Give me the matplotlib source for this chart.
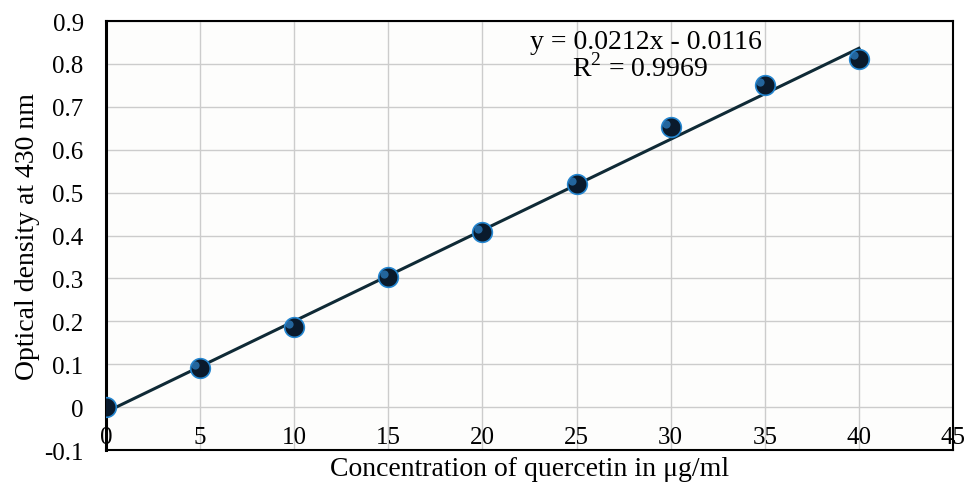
import matplotlib
matplotlib.use("Agg")
import matplotlib.pyplot as plt
import numpy as np

conc = [0, 5, 10, 15, 20, 25, 30, 35, 40]
od = [0.0, 0.09, 0.186, 0.303, 0.408, 0.52, 0.652, 0.75, 0.812]
slope = 0.0212
intercept = -0.0116
x_ticks = [0, 5, 10, 15, 20, 25, 30, 35, 40, 45]
y_ticks = [-0.1, 0, 0.1, 0.2, 0.3, 0.4, 0.5, 0.6, 0.7, 0.8, 0.9]
y_tick_labels = ["-0.1", "0", "0.1", "0.2", "0.3", "0.4", "0.5", "0.6", "0.7", "0.8", "0.9"]

plt.rcParams['font.family'] = ['Liberation Serif', 'DejaVu Serif']
plt.rcParams['mathtext.fontset'] = 'custom'
plt.rcParams['mathtext.rm'] = 'Liberation Serif'

fig = plt.figure(figsize=(9.65, 4.85), dpi=100)
ax = fig.add_axes([0.1098, 0.0701, 0.8778, 0.8845])
ax.set_facecolor('#fdfdfc')
fig.patch.set_facecolor('white')

ax.set_xlim(0, 45)
ax.set_ylim(-0.1, 0.9)
ax.set_xticks(x_ticks)
ax.set_yticks(y_ticks)
ax.set_yticklabels(y_tick_labels)
ax.grid(True, color='#cccccc', linewidth=1.0)
ax.set_axisbelow(True)

xf = np.array([conc[0], conc[-1]])
ax.plot(xf, slope * xf + intercept, color='#0f2a36', linewidth=2.2, zorder=3)
ax.scatter(conc, od, s=200, color='#0a1a2c', edgecolors='#2586d0', linewidths=1.2, zorder=4)
ax.scatter(np.array(conc) - 0.25, np.array(od) + 0.008, s=35, color='#2c7fc4', zorder=5, alpha=0.75, linewidths=0)

ax.tick_params(axis='x', direction='in', length=0, pad=-17, labelsize=18)
ax.tick_params(axis='y', length=0, pad=16, labelsize=18)

for s in ax.spines.values():
    s.set_color('black')
    s.set_linewidth(1.5)
ax.spines['left'].set_linewidth(2.2)

ax.set_xlabel('Concentration of quercetin in μg/ml', fontsize=20, labelpad=4)
ax.set_ylabel('Optical density at 430 nm', fontsize=20, labelpad=3)

ax.text(0.6375, 0.953, 'y = 0.0212x - 0.0116', transform=ax.transAxes, ha='center', va='center', fontsize=20)
ax.text(0.630, 0.893, 'R$^2$ = 0.9969', transform=ax.transAxes, ha='center', va='center', fontsize=20)

fig.savefig('out.png', dpi=100)
